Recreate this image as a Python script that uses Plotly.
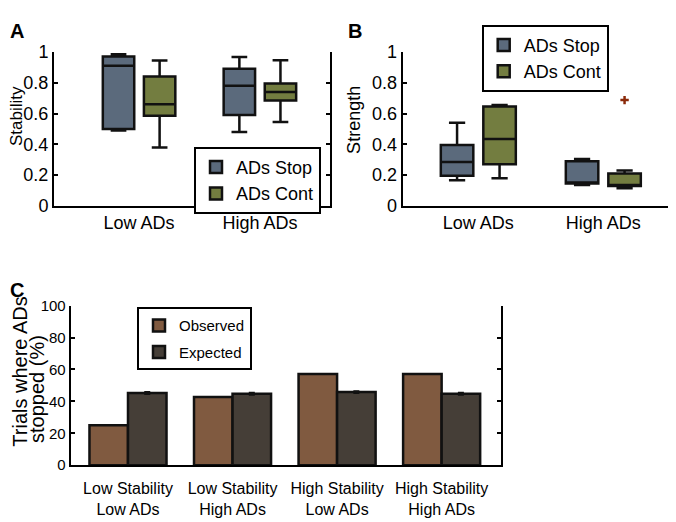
import plotly.graph_objects as go

# --- Data ---
groups_ab = ["Low ADs", "High ADs"]
series_ab = ["ADs Stop", "ADs Cont"]

# panel A: stability box stats, [Low ADs, High ADs]
stab_stop = dict(lowerfence=[0.49, 0.48], q1=[0.50, 0.59], median=[0.91, 0.78],
                 q3=[0.97, 0.89], upperfence=[0.985, 0.967])
stab_cont = dict(lowerfence=[0.38, 0.545], q1=[0.585, 0.685], median=[0.66, 0.74],
                 q3=[0.84, 0.795], upperfence=[0.945, 0.946])

# panel B: strength box stats
str_stop = dict(lowerfence=[0.167, 0.135], q1=[0.195, 0.145], median=[0.285, 0.145],
                q3=[0.395, 0.29], upperfence=[0.54, 0.305])
str_cont = dict(lowerfence=[0.18, 0.115], q1=[0.27, 0.13], median=[0.435, 0.13],
                q3=[0.645, 0.21], upperfence=[0.655, 0.23])
str_cont_outlier = [0.687]  # High ADs

# panel C
conditions = ["Low Stability<br>Low ADs", "Low Stability<br>High ADs",
              "High Stability<br>Low ADs", "High Stability<br>High ADs"]
observed = [25.1, 42.8, 57.2, 57.2]
expected = [45.2, 44.8, 45.8, 44.8]
expected_err = [0.6, 0.6, 0.6, 0.6]

# --- Style ---
FONT = "Liberation Sans, Arial, Helvetica, sans-serif"
C_STOP = "#5b6a7c"
C_CONT = "#737d40"
C_OBS = "#805a40"
C_EXP = "#453e37"
EDGE = "#111111"
OFFSET = {"ADs Stop": -0.17, "ADs Cont": 0.17}
BOXW = 0.26

# page body has an 8px margin, so the figure is 8px smaller and coordinates are shifted
PAD = 8
W, H = 676 - PAD, 522 - PAD


def px_x(v):
    return (v - PAD) / W


def px_y(v):
    return 1 - (v - PAD) / H


fig = go.Figure()


def add_boxes(stats_list, xa, ya, legend):
    for name, stats, color in zip(series_ab, stats_list, [C_STOP, C_CONT]):
        xs = [i + OFFSET[name] for i in range(len(groups_ab))]
        fig.add_trace(go.Box(
            x=xs, name=name, width=BOXW, whiskerwidth=0.5,
            fillcolor=color, line=dict(color=EDGE, width=2.5),
            xaxis=xa, yaxis=ya, legend=legend, hoverinfo="skip",
            **stats))


add_boxes([stab_stop, stab_cont], "x", "y", "legend")
add_boxes([str_stop, str_cont], "x2", "y2", "legend2")

fig.add_trace(go.Scatter(
    x=[1 + OFFSET["ADs Cont"]], y=str_cont_outlier, mode="markers",
    marker=dict(symbol="cross-thin", size=6, line=dict(color="#8b2a0a", width=2.5)),
    xaxis="x2", yaxis="y2", showlegend=False))

fig.add_trace(go.Bar(
    x=conditions, y=observed, name="Observed",
    marker=dict(color=C_OBS, line=dict(color=EDGE, width=2.5)),
    xaxis="x3", yaxis="y3", legend="legend3", legendgroup="obs"))
fig.add_trace(go.Bar(
    x=conditions, y=expected, name="Expected",
    marker=dict(color=C_EXP, line=dict(color=EDGE, width=2.5)),
    error_y=dict(type="data", array=expected_err, color=EDGE, thickness=2, width=3),
    xaxis="x3", yaxis="y3", legend="legend3", legendgroup="exp"))

ax_common = dict(showline=True, linecolor="black", linewidth=2, showgrid=False, zeroline=False,
                 tickfont=dict(size=18, color="black"))
yax = dict(ax_common, mirror="ticks", ticks="inside", ticklen=4, tickwidth=2, tickcolor="black",
           ticklabelstandoff=0)
unit_ticks = dict(tickvals=[0, 0.2, 0.4, 0.6, 0.8, 1],
                  ticktext=["0", "0.2", "0.4", "0.6", "0.8", "1"])

fig.update_layout(
    width=W, height=H, margin=dict(l=0, r=0, t=0, b=0),
    paper_bgcolor="white", plot_bgcolor="white",
    font=dict(family=FONT, color="black"),
    barmode="group", bargap=0.263, bargroupgap=0,
    xaxis=dict(ax_common, domain=[px_x(54), px_x(330)], range=[-0.704, 1.58],
               tickvals=[0, 1], ticktext=groups_ab, ticks="", ticklabelstandoff=0, anchor="y"),
    yaxis=dict(yax, domain=[px_y(203.5), px_y(43.3)], range=[0, 1], anchor="x", **unit_ticks),
    xaxis2=dict(ax_common, domain=[px_x(402.7), px_x(671.7)], range=[-0.605, 1.547],
                tickvals=[0, 1], ticktext=groups_ab, ticks="", ticklabelstandoff=0, anchor="y2"),
    yaxis2=dict(yax, domain=[px_y(203.5), px_y(43.3)], range=[0, 1], anchor="x2", **unit_ticks),
    xaxis3=dict(ax_common, domain=[px_x(70.7), px_x(500.7)], range=[-0.548, 3.565],
                ticks="", ticklabelstandoff=8, tickfont=dict(size=16, color="black"), anchor="y3"),
    yaxis3=dict(yax, domain=[px_y(473.3), px_y(307.3)], range=[0, 100],
                tickvals=[0, 20, 40, 60, 80, 100], tickfont=dict(size=15, color="black"), anchor="x3"),
    legend=dict(x=px_x(194), y=px_y(142), xanchor="left", yanchor="top",
                bordercolor="black", borderwidth=2, bgcolor="white",
                font=dict(size=18, color="black")),
    legend2=dict(x=px_x(481.7), y=px_y(15), xanchor="left", yanchor="top",
                 bordercolor="black", borderwidth=2, bgcolor="white",
                 font=dict(size=18, color="black")),
    legend3=dict(x=px_x(137), y=px_y(309), xanchor="left", yanchor="top",
                 bordercolor="black", borderwidth=2, bgcolor="white", tracegroupgap=4,
                 font=dict(size=15, color="black")),
)

annos = [
    dict(text="<b>A</b>", x=0, y=1, xanchor="left", yanchor="top", size=20),
    dict(text="<b>B</b>", x=px_x(346), y=1, xanchor="left", yanchor="top", size=20),
    dict(text="<b>C</b>", x=0, y=px_y(277), xanchor="left", yanchor="top", size=20),
    dict(text="Stability", x=px_x(16), y=px_y(110), textangle=-90, size=17),
    dict(text="Strength", x=px_x(354), y=px_y(114), textangle=-90, size=18),
    dict(text="Trials where ADs", x=px_x(20), y=px_y(376), textangle=-90, size=20),
    dict(text="stopped (%)", x=px_x(37), y=px_y(394), textangle=-90, size=20),
]
for a in annos:
    size = a.pop("size")
    a.setdefault("xanchor", "center")
    a.setdefault("yanchor", "middle")
    a.update(xref="paper", yref="paper", showarrow=False,
             font=dict(size=size, family=FONT, color="black"))
fig.update_layout(annotations=annos)

fig.write_html("out.html")
